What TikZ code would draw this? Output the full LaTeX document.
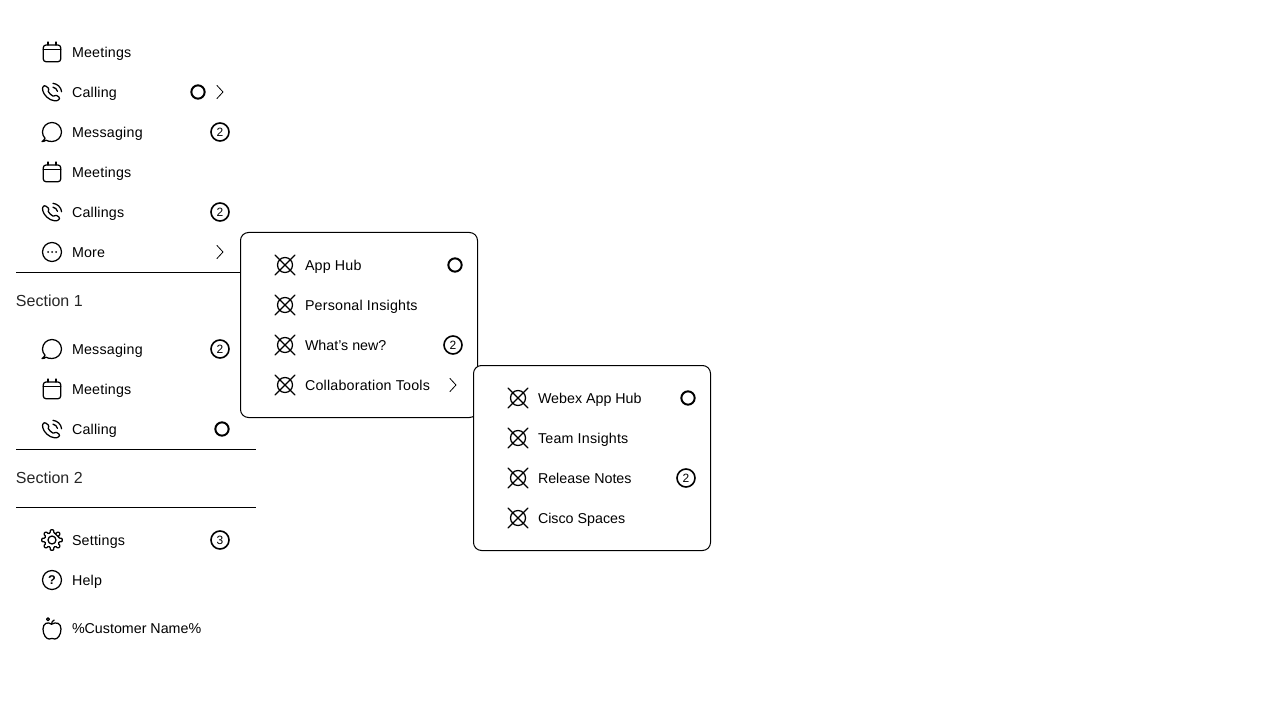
\documentclass[tikz,border=0pt]{standalone}
\usepackage{fontspec}
\setmainfont{Liberation Sans}
\newfontfamily\widef[LetterSpace=1.5]{Liberation Sans}
\tikzset{
  x=0.75pt,y=-0.75pt,
  ink/.style={draw=black,line width=0.95pt,line join=round,line cap=round},
  thin ink/.style={draw=black,line width=0.6pt,line join=round,line cap=round},
  lbl/.style={anchor=base west,inner sep=0pt,outer sep=0pt,text=black,font=\widef\fontsize{10.7pt}{12pt}\selectfont},
  lblp/.style={anchor=base west,inner sep=0pt,outer sep=0pt,text=black,font=\fontsize{10.7pt}{12pt}\selectfont},
  sec/.style={anchor=base west,inner sep=0pt,outer sep=0pt,text=black!85,font=\fontsize{12pt}{14pt}\selectfont},
  badge/.style={circle,draw=black,line width=1.2pt,minimum size=13.5pt,inner sep=0pt,font=\fontsize{9pt}{10pt}\selectfont},
  dotb/.style={circle,draw=black,line width=1.5pt,minimum size=10pt,inner sep=0pt},
  panel/.style={draw=black,line width=0.75pt,fill=white,rounded corners=6pt},
  rule/.style={draw=black,line width=0.75pt},
  cal/.pic={\draw[ink,rounded corners=2pt](-8.7,-7)rectangle(8.7,9.7);\draw[ink](-8.7,-2.7)--(8.7,-2.7);\draw[ink](-4,-10)--(-4,-7)(4,-10)--(4,-7);},
  phone/.pic={\draw[ink,rounded corners=0.8pt](-6.8,-6.5)..controls(-8.7,-6)and(-9.6,-4.3)..(-9.3,-2.3)..controls(-8.6,2.5)and(-3,8.5)..(3.5,8.8)..controls(5.5,8.8)and(7.2,7.5)..(7.8,5.6)--(3.8,2.9)--(2,4.5)..controls(-0.8,3.4)and(-3,1)..(-4.2,-1.4)--(-2.6,-3)--cycle;
    \draw[ink](1,-8.7)..controls(5.5,-8)and(9,-5)..(9.6,-0.3);\draw[ink](1,-4.8)..controls(3.2,-4.4)and(5,-2.8)..(5.5,-0.6);},
  msg/.pic={\draw[ink](-7,6.2)..controls(-8.6,4.5)and(-9.5,2.5)..(-9.5,0)arc(180:450:9.5)..controls(-2.5,9.5)and(-4.5,9)..(-6,8.2)..controls(-7,9)and(-8.5,9.6)..(-10,9.6)..controls(-8.8,8.8)and(-7.5,7.6)..(-7,6.2)--cycle;},
  more/.pic={\draw[ink](0,0)circle(9.5);\fill(-4,0)circle(1)(0,0)circle(1)(4,0)circle(1);},
  help/.pic={\draw[ink](0,0)circle(9.5);\node[inner sep=0pt,font=\fontsize{9.5pt}{10pt}\bfseries\selectfont]at(0,0){?};},
  gear/.pic={\draw[ink,rounded corners=0.7pt]
    \foreach \a in {0,45,...,315}{
      ({\a-22.5}:7.2) -- ({\a-14}:7.2) -- ({\a-10}:10.4) -- ({\a+10}:10.4) -- ({\a+14}:7.2)
      -- ({\a+22.5}:7.2)
    } -- cycle;
    \draw[ink](0,0)circle(4);},
  apple/.pic={\draw[ink](-0.5,-3.8)..controls(-4,-6.5)and(-9,-5)..(-9,1)..controls(-9,7)and(-5.5,11)..(-3,11)..controls(-1.8,11)and(-1,10.4)..(0,10.4)..controls(1,10.4)and(1.8,11)..(3,11)..controls(5.5,11)and(9,7)..(9,1)..controls(9,-5)and(4,-6.5)..(-0.5,-3.8);
    \draw[ink](-0.5,-3.8)..controls(-0.5,-6)and(0.5,-7)..(2.2,-8);\draw[ink](-4,-8.8)circle(1.5);},
  xic/.pic={\draw[ink](0,0)circle(7.5);\draw[ink](-10,-10)--(10,10)(10,-10)--(-10,10);},
}
\newcommand{\chev}[2]{\draw[thin ink](#1-3,#2-6.5)--(#1+3,#2)--(#1-3,#2+6.5);}
\begin{document}
\begin{tikzpicture}
\useasboundingbox (0,0) rectangle (1280,720);
% main rail
\pic at (52,52) {cal};  \node[lbl] (t1) at (72,57.5) {Meetings};
\pic at (52,92) {phone};\node[lbl] (t2) at (72,97.5) {Calling};
\node[dotb] (d1) at (198,92) {}; \chev{220}{92}
\pic at (52,132) {msg}; \node[lbl] (t3) at (72,137.5) {Messaging};
\node[badge] (b1) at (220,132) {2};
\pic at (52,172) {cal}; \node[lbl] (t4) at (72,177.5) {Meetings};
\pic at (52,212) {phone};\node[lbl] (t5) at (72,217.5) {Callings};
\node[badge] (b2) at (220,212) {2};
\pic at (52,252) {more};\node[lbl] (t6) at (72,257.5) {More};
\chev{220}{252}
\draw[rule] (16,272.5) -- (256,272.5);
\node[sec] (s1) at (16,306.5) {Section 1};
\pic at (52,349) {msg}; \node[lbl] (t7) at (72,354) {Messaging};
\node[badge] (b3) at (220,349) {2};
\pic at (52,389) {cal}; \node[lbl] (t8) at (72,394) {Meetings};
\pic at (52,429) {phone};\node[lbl] (t9) at (72,434) {Calling};
\node[dotb] (d2) at (222,429) {};
\draw[rule] (16,449.5) -- (256,449.5);
\node[sec] (s2) at (16,483.5) {Section 2};
\draw[rule] (16,507.5) -- (256,507.5);
\pic at (52,540) {gear};\node[lbl] (t10) at (72,545) {Settings};
\node[badge] (b4) at (220,540) {3};
\pic at (52,580) {help};\node[lbl] (t11) at (72,585) {Help};
\pic at (52,628) {apple};\node[lblp] (t12) at (72,633) {\%Customer Name\%};
% first flyout
\draw[panel] (240.5,232.5) rectangle (477.5,417.5);
\pic at (285,265) {xic};\node[lbl] (p1) at (305,270) {App Hub};
\node[dotb] (d3) at (455,265) {};
\pic at (285,305) {xic};\node[lbl] (p2) at (305,310) {Personal Insights};
\pic at (285,345) {xic};\node[lblp] (p3) at (305,350) {What's new?};
\node[badge] (b5) at (453,345) {2};
\pic at (285,385) {xic};\node[lbl] (p4) at (305,390) {Collaboration Tools};
\chev{453}{385}
% second flyout
\draw[panel] (473.5,365.5) rectangle (710.5,550.5);
\pic at (518,398) {xic};\node[lblp] (q1) at (538,403) {Webex App Hub};
\node[dotb] (d4) at (688,398) {};
\pic at (518,438) {xic};\node[lbl] (q2) at (538,443) {Team Insights};
\pic at (518,478) {xic};\node[lblp] (q3) at (538,483) {Release Notes};
\node[badge] (b6) at (686,478) {2};
\pic at (518,518) {xic};\node[lblp] (q4) at (538,523) {Cisco Spaces};
\end{tikzpicture}
\end{document}
